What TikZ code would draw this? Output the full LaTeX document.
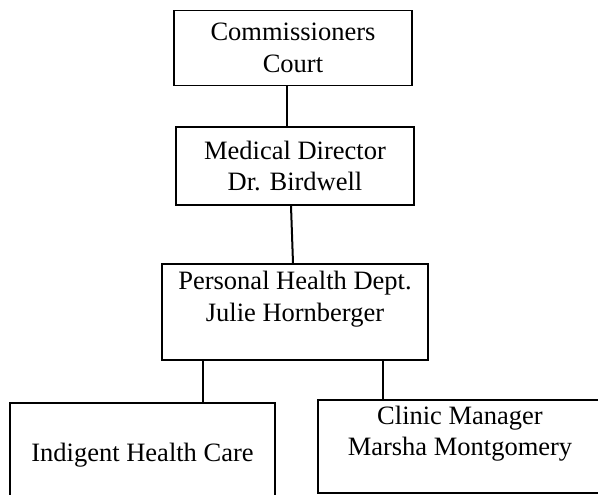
\documentclass[tikz,border=0pt]{standalone}
\usepackage{fontspec}
\setmainfont{Liberation Serif}

\begin{document}
\begin{tikzpicture}[
    x=1pt, y=-1pt,
    box/.style={draw=black, line width=1.8pt, inner sep=0pt, align=center,
                font=\fontsize{26.5}{31.5}\selectfont},
    link/.style={draw=black, line width=2pt},
]

\useasboundingbox (0,0) rectangle (598,495);
\clip (0,0) rectangle (598,495);

% --- Boxes ---
\node[box, minimum width=238pt, minimum height=75pt] (court) at (293, 48)
    {Commissioners\\Court};
\node[box, minimum width=238pt, minimum height=78pt] (meddir) at (295, 166)
    {Medical Director\\Dr. Birdwell};
\node[box, minimum width=266pt, minimum height=96pt] (phd) at (295, 312)
    {Personal Health Dept.\\Julie Hornberger\\\mbox{}};
\node[box, minimum width=265pt, minimum height=105pt] (indigent) at (142.5, 455.5)
    {Indigent Health Care};
\node[box, minimum width=284pt, minimum height=93pt] (clinic) at (460, 446.5)
    {Clinic Manager\\Marsha Montgomery\\\mbox{}};

% --- Links ---
\draw[link] ([xshift=-6pt]court.south) -- ([xshift=-8pt]meddir.north);
\draw[link] ([xshift=-4pt]meddir.south) -- ([xshift=-2pt]phd.north);
\draw[link] ([xshift=-92pt]phd.south) -- ([xshift=-92pt]phd.south |- indigent.north);
\draw[link] ([xshift=88pt]phd.south) -- ([xshift=88pt]phd.south |- clinic.north);

\end{tikzpicture}
\end{document}
